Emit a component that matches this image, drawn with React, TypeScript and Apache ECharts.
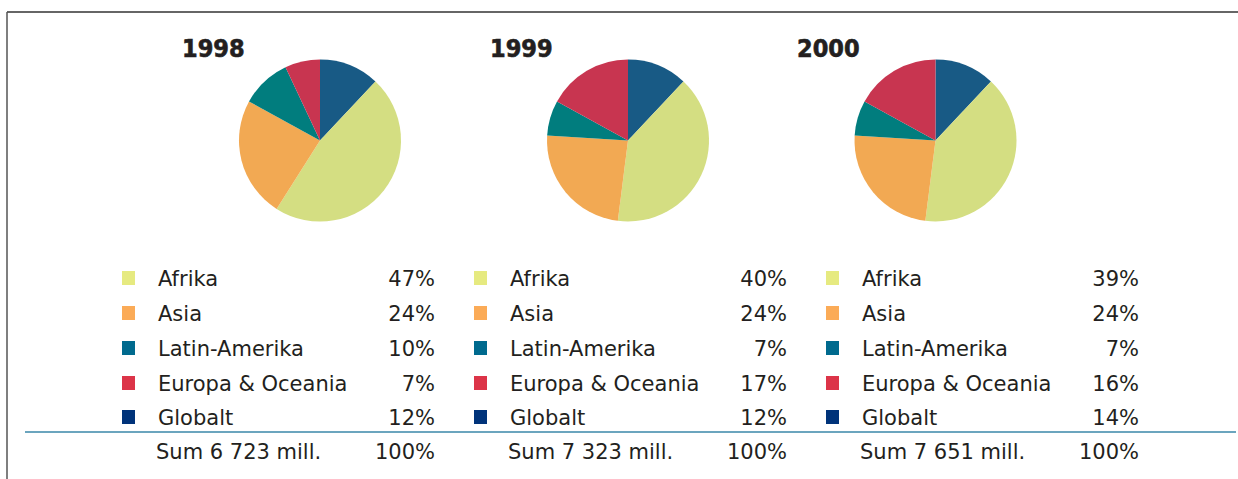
import React, { useEffect, useRef } from "react";
import * as echarts from "echarts";

const years = ["1998", "1999", "2000"];
const regions = ["Afrika", "Asia", "Latin-Amerika", "Europa & Oceania", "Globalt"];
// percentages printed in the legend tables
const share1998 = [47, 24, 10, 7, 12];
const share1999 = [40, 24, 7, 17, 12];
const share2000 = [39, 24, 7, 16, 14];
// slice sizes as drawn in the pies (the 2000 pie is drawn with slightly different shares)
const pie1998 = [47, 24, 10, 7, 12];
const pie1999 = [40, 24, 7, 17, 12];
const pie2000 = [40, 24, 7, 17, 12];
const sums = ["Sum 6 723 mill.", "Sum 7 323 mill.", "Sum 7 651 mill."];
const totalLabel = "100%";

const pieColors = ["#d4de82", "#f2a953", "#017d7e", "#c83550", "#185a85"];
const legendColors = ["#e6ea80", "#fbab57", "#006a8e", "#dc3448", "#00337a"];

const allShares = [share1998, share1999, share2000];
const allPies = [pie1998, pie1999, pie2000];

export default function App() {
  const ref = useRef<HTMLDivElement>(null);
  useEffect(() => {
    document.body.style.margin = "0";
    const chart = echarts.init(ref.current!, null, { renderer: "svg" });
    const textColor = "#231f20";
    const font = "'DejaVu Sans', sans-serif";
    const colStep = 352;
    const pieCenters = [320, 628, 935.5];
    const titleX = [182, 490, 797];
    const rowY = [279, 314, 349, 384, 418];

    const series: any[] = allPies.map((shares, k) => {
      // clockwise from 12 o'clock: Globalt, Afrika, Asia, Latin-Amerika, Europa
      const order = [4, 0, 1, 2, 3];
      return {
        type: "pie",
        center: [pieCenters[k], 140.5],
        radius: [0, 81],
        startAngle: 90,
        clockwise: true,
        label: { show: false },
        labelLine: { show: false },
        emphasis: { disabled: true },
        itemStyle: { borderWidth: 0 },
        data: order.map((i) => ({
          name: regions[i],
          value: shares[i],
          itemStyle: { color: pieColors[i] },
        })),
      };
    });

    const graphic: any[] = [
      { type: "line", shape: { x1: 7, y1: 12, x2: 1238, y2: 12 }, style: { stroke: "#333333", lineWidth: 1.5 } },
      { type: "line", shape: { x1: 7, y1: 12, x2: 7, y2: 479 }, style: { stroke: "#555555", lineWidth: 1.5 } },
      { type: "line", shape: { x1: 25, y1: 432, x2: 1236, y2: 432 }, style: { stroke: "#3a87a8", lineWidth: 1.5 } },
    ];

    years.forEach((y, k) => {
      graphic.push({
        type: "text",
        x: titleX[k],
        y: 48,
        style: {
          text: y,
          font: "bold 25px 'DejaVu Sans Condensed', 'DejaVu Sans', sans-serif",
          fill: textColor,
          stroke: textColor,
          lineWidth: 0.6,
          verticalAlign: "middle",
          textAlign: "left",
        },
      });
      const off = k * colStep;
      regions.forEach((r, i) => {
        graphic.push({
          type: "rect",
          shape: { x: 122 + off, y: rowY[i] - 8, width: 13, height: 14 },
          style: { fill: legendColors[i] },
        });
        graphic.push({
          type: "text",
          x: 158 + off,
          y: rowY[i],
          style: { text: r, font: `21px ${font}`, fill: textColor, verticalAlign: "middle" },
        });
        graphic.push({
          type: "text",
          x: 435 + off,
          y: rowY[i],
          style: {
            text: allShares[k][i] + "%",
            font: `21px ${font}`,
            fill: textColor,
            verticalAlign: "middle",
            textAlign: "right",
          },
        });
      });
      graphic.push({
        type: "text",
        x: 156 + off,
        y: 452,
        style: { text: sums[k], font: `21px ${font}`, fill: textColor, verticalAlign: "middle" },
      });
      graphic.push({
        type: "text",
        x: 435 + off,
        y: 452,
        style: { text: totalLabel, font: `21px ${font}`, fill: textColor, verticalAlign: "middle", textAlign: "right" },
      });
    });

    chart.setOption({
      animation: false,
      backgroundColor: "#ffffff",
      series,
      graphic,
    });
    return () => chart.dispose();
  }, []);
  return <div ref={ref} style={{ width: 1238, height: 479 }} />;
}
